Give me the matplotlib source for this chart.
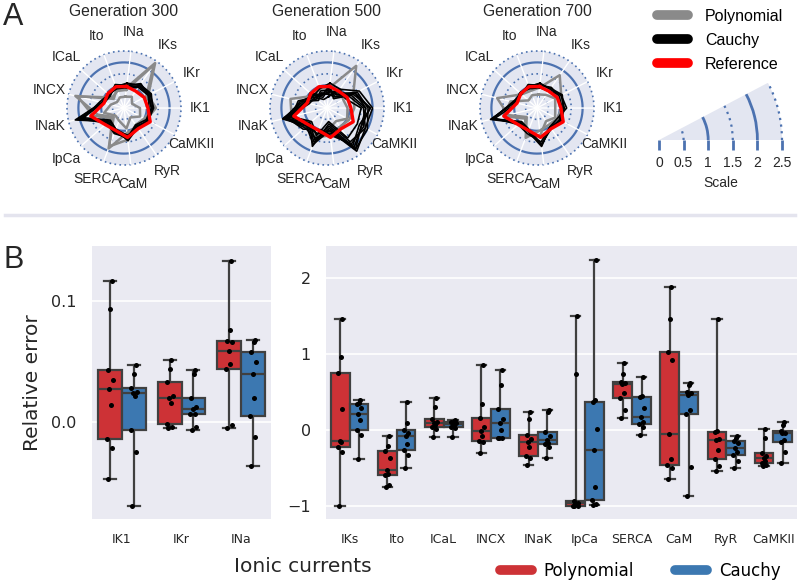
"""Radar charts of fitted scalings plus relative error box plots."""
import numpy as np
import matplotlib
matplotlib.use("Agg")
import matplotlib.pyplot as plt
from matplotlib.lines import Line2D
from matplotlib.patches import Wedge, Arc

# ---- panel A data -------------------------------------------------------
radar_currents = ["INa", "IKs", "IKr", "IK1", "CaMKII", "RyR", "CaM",
                  "SERCA", "IpCa", "INaK", "INCX", "ICaL", "Ito"]
generations = [300, 500, 700]
reference = [0.95, 0.9, 1.0, 1.05, 1.3, 1.1, 1.3, 1.05, 1.1, 1.5, 0.9, 0.95, 1.0]

poly_300 = [
    [0.9, 2.4, 1.2, 1.4, 1.1, 1.0, 1.1, 1.9, 0.6, 1.2, 2.2, 0.6, 0.9],
    [0.8, 2.3, 1.1, 1.3, 1.0, 0.9, 1.4, 1.8, 0.7, 1.4, 2.1, 0.7, 0.8],
    [0.5, 0.6, 0.4, 0.7, 0.8, 0.5, 0.9, 0.6, 0.5, 0.9, 0.6, 0.4, 0.5],
]
cauchy_300 = [
    [1.1, 1.2, 1.3, 1.3, 1.2, 1.0, 1.4, 1.1, 0.9, 2.2, 1.0, 0.9, 1.0],
    [1.0, 1.3, 1.2, 1.2, 1.1, 0.9, 1.3, 1.2, 1.0, 2.0, 0.9, 0.8, 1.1],
    [0.9, 1.1, 1.2, 1.1, 1.3, 1.1, 1.2, 1.0, 0.8, 1.8, 1.1, 0.9, 0.9],
    [1.0, 1.25, 1.35, 1.25, 1.15, 1.05, 1.45, 1.0, 0.85, 2.1, 1.0, 0.85, 1.05],
    [0.95, 1.15, 1.25, 1.2, 1.25, 0.95, 1.35, 1.15, 0.95, 1.9, 0.95, 0.9, 0.95],
]
poly_500 = [
    [0.9, 2.25, 1.3, 1.2, 1.1, 1.0, 1.2, 1.4, 1.0, 1.6, 1.65, 0.8, 0.9],
    [0.7, 1.0, 0.8, 0.9, 1.0, 0.7, 0.9, 1.2, 1.3, 1.7, 1.0, 0.6, 0.7],
]
cauchy_500 = [
    [1.1, 1.0, 1.6, 2.0, 1.9, 2.3, 1.0, 1.7, 1.2, 2.0, 1.0, 0.8, 0.9],
    [0.6, 0.8, 1.4, 1.9, 1.7, 2.1, 0.8, 1.5, 1.0, 1.9, 1.2, 0.5, 0.7],
    [1.0, 0.5, 1.2, 1.7, 1.8, 1.9, 1.2, 1.0, 1.4, 1.8, 0.9, 1.0, 0.6],
    [0.5, 1.0, 0.9, 1.5, 1.5, 1.6, 0.6, 1.3, 0.9, 1.6, 1.3, 0.7, 0.4],
    [0.8, 0.7, 1.5, 1.8, 2.0, 2.2, 0.9, 1.6, 1.1, 2.0, 1.1, 0.6, 0.8],
    [0.9, 0.6, 1.3, 1.9, 1.6, 2.0, 1.1, 1.4, 1.3, 1.9, 1.0, 0.9, 0.5],
    [0.7, 0.9, 1.1, 1.6, 1.9, 1.8, 0.7, 1.8, 1.0, 1.7, 1.2, 0.8, 0.6],
    [0.6, 0.6, 1.4, 1.7, 1.7, 2.2, 1.0, 1.2, 1.2, 1.8, 0.8, 0.7, 0.7],
]
poly_700 = [
    [0.9, 1.75, 1.2, 1.1, 1.0, 0.9, 1.0, 1.4, 0.6, 1.3, 1.8, 0.9, 0.8],
    [0.6, 0.7, 0.9, 0.8, 0.9, 0.7, 1.2, 1.3, 0.7, 1.5, 1.2, 0.5, 0.6],
]
cauchy_700 = [
    [1.1, 1.0, 1.2, 1.2, 1.2, 1.0, 1.7, 1.1, 1.0, 2.1, 1.0, 1.0, 1.0],
    [1.0, 1.1, 1.1, 1.1, 1.1, 1.1, 1.6, 1.0, 0.9, 2.0, 1.1, 0.9, 1.1],
    [0.9, 0.9, 1.2, 1.3, 1.0, 1.0, 1.5, 1.2, 1.1, 1.9, 0.9, 1.0, 0.9],
    [1.05, 1.05, 1.25, 1.15, 1.15, 1.05, 1.65, 1.05, 0.95, 2.05, 1.05, 0.95, 1.05],
]
poly_lines = [poly_300, poly_500, poly_700]
cauchy_lines = [cauchy_300, cauchy_500, cauchy_700]

ring_levels = [0.5, 1.0, 1.5, 2.0, 2.5]
ring_styles = [(0, (1, 2)), "-", (0, (1, 2)), "-", (0, (1, 2))]
scale_ticks = [0, 0.5, 1, 1.5, 2, 2.5]
scale_labels = ["0", "0.5", "1", "1.5", "2", "2.5"]

# ---- panel B data -------------------------------------------------------
left_currents = ["IK1", "IKr", "INa"]
right_currents = ["IKs", "Ito", "ICaL", "INCX", "INaK", "IpCa", "SERCA",
                  "CaM", "RyR", "CaMKII"]
poly_err = {
    "IK1": [-0.047, -0.021, -0.014, 0.014, 0.027, 0.035, 0.043, 0.093, 0.116],
    "IKr": [-0.0045, -0.004, -0.001, 0.016, 0.020, 0.022, 0.033, 0.044, 0.051],
    "INa": [-0.005, -0.002, 0.044, 0.048, 0.059, 0.066, 0.067, 0.076, 0.133],
    "IKs": [-0.99, -0.29, -0.22, -0.16, -0.14, 0.28, 0.76, 0.96, 1.46],
    "Ito": [-0.75, -0.72, -0.59, -0.58, -0.52, -0.37, -0.277, -0.21, -0.07],
    "ICaL": [-0.09, 0.02, 0.04, 0.07, 0.10, 0.11, 0.144, 0.31, 0.43],
    "INCX": [-0.30, -0.15, -0.14, -0.08, -0.005, 0.05, 0.166, 0.34, 0.855],
    "INaK": [-0.45, -0.36, -0.34, -0.22, -0.15, -0.11, -0.06, 0.15, 0.24],
    "IpCa": [-1.0, -0.995, -0.99, -0.97, -0.96, -0.95, -0.93, 0.74, 1.51],
    "SERCA": [0.16, 0.27, 0.42, 0.49, 0.61, 0.62, 0.64, 0.74, 0.88],
    "CaM": [-0.635, -0.50, -0.457, -0.38, -0.05, 0.92, 1.025, 1.47, 1.89],
    "RyR": [-0.53, -0.47, -0.38, -0.26, -0.13, -0.11, -0.027, -0.01, 1.46],
    "CaMKII": [-0.47, -0.45, -0.435, -0.40, -0.37, -0.34, -0.30, -0.10, 0.02],
}
cauchy_err = {
    "IK1": [-0.069, -0.024, -0.006, 0.022, 0.024, 0.025, 0.028, 0.040, 0.047],
    "IKr": [-0.006, -0.004, 0.0066, 0.007, 0.011, 0.013, 0.0197, 0.040, 0.043],
    "INa": [-0.036, -0.012, 0.005, 0.020, 0.040, 0.050, 0.058, 0.066, 0.068],
    "IKs": [-0.38, -0.06, 0.004, 0.13, 0.21, 0.30, 0.34, 0.36, 0.40],
    "Ito": [-0.50, -0.32, -0.26, -0.18, -0.075, -0.04, 0.004, 0.09, 0.37],
    "ICaL": [-0.09, 0.03, 0.04, 0.06, 0.083, 0.10, 0.114, 0.12, 0.13],
    "INCX": [-0.105, -0.10, -0.097, 0.0, 0.10, 0.15, 0.276, 0.59, 0.79],
    "INaK": [-0.37, -0.22, -0.18, -0.17, -0.13, -0.08, -0.027, 0.24, 0.27],
    "IpCa": [-0.98, -0.97, -0.916, -0.74, -0.26, 0.02, 0.377, 0.40, 2.24],
    "SERCA": [-0.06, 0.05, 0.08, 0.11, 0.18, 0.30, 0.44, 0.45, 0.70],
    "CaM": [-0.87, -0.48, 0.21, 0.27, 0.465, 0.49, 0.51, 0.59, 0.62],
    "RyR": [-0.49, -0.40, -0.33, -0.28, -0.23, -0.17, -0.14, -0.10, -0.08],
    "CaMKII": [-0.43, -0.28, -0.16, -0.13, -0.04, -0.03, -0.01, 0.07, 0.114],
}

RED = "#cd3236"
BLUE = "#3c78b1"
EDGE = "#404040"
RING = "#4c72b0"
DISC = "#e3e6f1"
BG = "#eaeaf2"
SANS_A = "Liberation Sans"

W, H = 800, 582
fig = plt.figure(figsize=(8, 5.82), dpi=100)


def fx(px):
    return px / W


def fy(px):
    return 1 - px / H


# ---- panel A: radar charts ----------------------------------------------
theta = np.linspace(0, 2 * np.pi, len(radar_currents), endpoint=False)
theta_c = np.append(theta, theta[0])
ring_theta = np.linspace(0, 2 * np.pi, 300)
centers = [124, 327, 537]
cy = 108
rad_px = 57

for gen, cx, polys, cauchys in zip(generations, centers, poly_lines, cauchy_lines):
    ax = fig.add_axes([fx(cx - rad_px), fy(cy + rad_px), 2 * rad_px / W, 2 * rad_px / H],
                      projection="polar")
    ax.set_theta_offset(np.pi / 2 - np.deg2rad(7))
    ax.set_theta_direction(-1)
    ax.set_facecolor(DISC)
    for r, ls in zip(ring_levels, ring_styles):
        ax.plot(ring_theta, np.full(ring_theta.size, r), color=RING, ls=ls,
                lw=1.6 if ls == "-" else 1.2, zorder=1.5, clip_on=False)
    for vals in polys:
        ax.plot(theta_c, np.append(vals, vals[0]), color="#8a8a8a", lw=1.8, zorder=2)
    for vals in cauchys:
        ax.plot(theta_c, np.append(vals, vals[0]), color="black", lw=1.2, zorder=2.5)
    ax.plot(theta_c, np.append(reference, reference[0]), color="red", lw=2.4, zorder=3)
    ax.set_ylim(0, 2.5)
    ax.set_yticks([])
    ax.set_xticks(theta)
    ax.set_xticklabels(radar_currents, fontsize=10, family=SANS_A, color="#262626")
    ax.tick_params(axis="x", pad=3.5)
    ax.xaxis.grid(True, color="white", lw=1)
    ax.spines["polar"].set_visible(False)
    fig.text(fx(cx), fy(12), f"Generation {gen}", fontsize=11.3, family=SANS_A,
             ha="center", va="center", color="#262626")

# legend for radar lines
radar_handles = [
    Line2D([], [], color="#8a8a8a", lw=7, solid_capstyle="round", label="Polynomial"),
    Line2D([], [], color="black", lw=7, solid_capstyle="round", label="Cauchy"),
    Line2D([], [], color="red", lw=7, solid_capstyle="round", label="Reference"),
]
fig.legend(handles=radar_handles, loc="upper left", bbox_to_anchor=(fx(657), fy(9)),
           frameon=False, prop={"family": SANS_A, "size": 11.5}, handlelength=1.95,
           handletextpad=1.05, labelspacing=0.55, borderpad=0, borderaxespad=0)

# scale wedge
wedge_deg = 360 / len(radar_currents)
sax = fig.add_axes([fx(659), fy(140), 123 / W, 57.2 / H])
sax.set_xlim(0, 2.5)
sax.set_ylim(0, 2.5 * np.sin(np.deg2rad(wedge_deg)))
sax.add_patch(Wedge((0, 0), 2.5, 0, wedge_deg, color=DISC, lw=0))
for r, ls in zip(ring_levels, ring_styles):
    sax.add_patch(Arc((0, 0), 2 * r, 2 * r, theta1=0, theta2=wedge_deg, color=RING,
                      ls=ls, lw=2.0 if ls == "-" else 1.6, clip_on=False))
sax.set_xticks(scale_ticks)
sax.set_xticklabels(scale_labels, fontsize=10, family=SANS_A, color="#262626")
sax.tick_params(axis="x", length=7, width=2, color=RING, pad=4.5)
sax.set_yticks([])
sax.set_facecolor("none")
for s in sax.spines.values():
    s.set_visible(False)
sax.set_xlabel("Scale", fontsize=10, family=SANS_A, color="#262626", labelpad=4)

fig.text(fx(3), fy(17), "A", fontsize=22, family=SANS_A, va="center", color="#262626")
fig.add_artist(Line2D([fx(5), fx(795)], [fy(215), fy(215)], transform=fig.transFigure,
                      color="#e4e4ee", lw=2.5))

# ---- panel B: box plots --------------------------------------------------
jitter = np.array([-0.03, 0.04, -0.05, 0.02, -0.01, 0.05, -0.04, 0.01, 0.03])


def draw_boxes(ax, currents):
    for errs, col, off in [(poly_err, RED, -0.2), (cauchy_err, BLUE, 0.2)]:
        data = [errs[c] for c in currents]
        pos = np.arange(len(currents)) + off
        ax.boxplot(data, positions=pos, widths=0.4, whis=(0, 100), patch_artist=True,
                   showfliers=False, manage_ticks=False,
                   boxprops=dict(facecolor=col, edgecolor=EDGE, lw=1.6),
                   medianprops=dict(color=EDGE, lw=1.6),
                   whiskerprops=dict(color=EDGE, lw=1.6),
                   capprops=dict(color=EDGE, lw=1.6))
        for p, d in zip(pos, data):
            ax.scatter(p + jitter[:len(d)], d, s=13, color="black", zorder=4, lw=0)
    ax.set_xlim(-0.5, len(currents) - 0.5)
    ax.set_xticks(np.arange(len(currents)))
    ax.set_xticklabels(currents, fontsize=9, color="#262626")
    ax.tick_params(axis="x", length=0, pad=10)
    ax.tick_params(axis="y", length=0, pad=11, labelsize=11.5, labelcolor="#262626")
    ax.set_facecolor(BG)
    ax.set_axisbelow(True)
    ax.yaxis.grid(True, color="white", lw=1.2)
    for s in ax.spines.values():
        s.set_visible(False)


axl = fig.add_axes([fx(92), fy(519), (271 - 92) / W, (519 - 246) / H])
draw_boxes(axl, left_currents)
axl.set_ylim(-0.0795, 0.145)
axl.set_yticks([0.0, 0.1])
axl.set_yticklabels(["0.0", "0.1"])
axl.set_ylabel("Relative error", fontsize=14.5, color="#262626")
axl.yaxis.set_label_coords(-0.279, 0.5)

axr = fig.add_axes([fx(326), fy(519), (797 - 326) / W, (519 - 246) / H])
draw_boxes(axr, right_currents)
axr.set_ylim(-1.167, 2.425)
axr.set_yticks([-1, 0, 1, 2])

fig.text(fx(303), fy(567), "Ionic currents", fontsize=14.5, ha="center", va="center",
         color="#262626")
fig.text(fx(3), fy(260), "B", fontsize=22, family=SANS_A, va="center", color="#262626")

box_handles = [
    Line2D([], [], color=RED, lw=7, solid_capstyle="round", label="Polynomial"),
    Line2D([], [], color=BLUE, lw=7, solid_capstyle="round", label="Cauchy"),
]
fig.legend(handles=box_handles, loc="center left", bbox_to_anchor=(fx(500), fy(571)),
           ncol=2, frameon=False, fontsize=12, handlelength=1.9, handletextpad=0.7,
           columnspacing=2.5, borderpad=0, borderaxespad=0)

fig.savefig("out.png", dpi=100)
